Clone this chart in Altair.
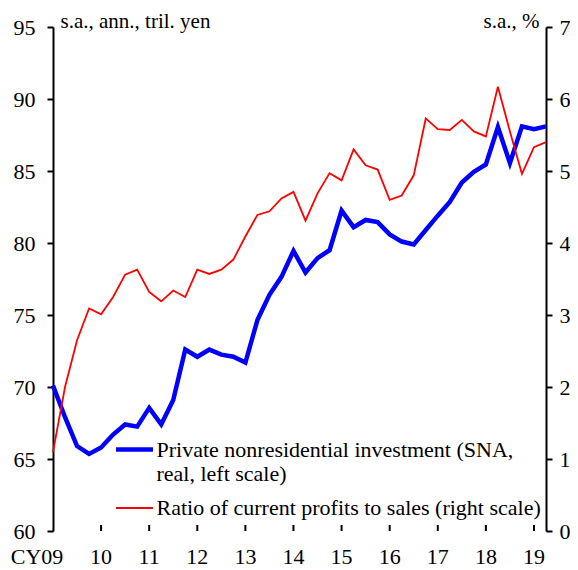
import altair as alt
import pandas as pd

# Quarterly observations, CY2009 Q1 .. CY2019 Q2
quarters = [f"{y}Q{q}" for y in range(2009, 2020) for q in range(1, 5)][:42]

investment = [70.1, 67.9, 65.9, 65.35, 65.8, 66.7, 67.4, 67.25, 68.55, 67.4,
              69.1, 72.6, 72.1, 72.6, 72.25, 72.1, 71.7, 74.65, 76.4, 77.65,
              79.45, 77.95, 78.95, 79.5, 82.25, 81.1, 81.6, 81.45, 80.6, 80.1,
              79.9, 80.9, 81.9, 82.85, 84.2, 84.95, 85.45, 88.05, 85.55, 88.1,
              87.9, 88.1]

profit_ratio = [1.10, 2.0, 2.65, 3.09, 3.01, 3.25, 3.56, 3.63, 3.32, 3.19,
                3.34, 3.25, 3.63, 3.57, 3.63, 3.77, 4.09, 4.39, 4.44, 4.62,
                4.71, 4.31, 4.69, 4.97, 4.87, 5.30, 5.08, 5.02, 4.60, 4.66,
                4.94, 5.73, 5.58, 5.57, 5.71, 5.55, 5.48, 6.17, 5.55, 4.96,
                5.33, 5.40]

year_ticks = list(range(2009, 2020))
year_labels = ["CY09", "10", "11", "12", "13", "14", "15", "16", "17", "18", "19"]
left_ticks = [60, 65, 70, 75, 80, 85, 90, 95]
right_ticks = [0, 1, 2, 3, 4, 5, 6, 7]

legend_labels = ["Private nonresidential investment (SNA,",
                 "real, left scale)",
                 "Ratio of current profits to sales (right scale)"]

t = [int(s[:4]) + (int(s[5]) - 1) / 4 for s in quarters]
df = pd.DataFrame({"t": t, "inv": investment, "ratio": profit_ratio})
years_df = pd.DataFrame({"year": year_ticks, "label": year_labels})
one = pd.DataFrame({"a": [0]})

W, H = 493, 504
FONT = "Liberation Serif"
FS = 22

x_scale = alt.Scale(domain=[2009, 2019.25], nice=False, zero=False)

x_axis = alt.Axis(
    values=year_ticks, ticks=False, labels=False, grid=False, title=None,
    domainColor="black", domainWidth=2,
)

common_y = dict(
    grid=False, labelFont=FONT, labelFontSize=FS, labelColor="black",
    tickSize=6, tickWidth=2, tickColor="black",
    domainColor="black", domainWidth=2, titleAngle=0,
    titleBaseline="alphabetic", titleY=0, titleFont=FONT, titleFontSize=21,
    titleFontWeight="normal", titleColor="black",
)

blue = alt.Chart(df).mark_line(color="#0000ff", strokeWidth=4.5).encode(
    x=alt.X("t:Q", scale=x_scale, axis=x_axis),
    y=alt.Y("inv:Q", scale=alt.Scale(domain=[60, 95], nice=False, zero=False),
            axis=alt.Axis(orient="left", values=left_ticks, labelPadding=12,
                          title="s.a., ann., tril. yen", titleAlign="left",
                          titleX=7, **common_y)),
)

red = alt.Chart(df).mark_line(color="#ff0000", strokeWidth=1.8).encode(
    x=alt.X("t:Q", scale=x_scale, axis=None),
    y=alt.Y("ratio:Q", scale=alt.Scale(domain=[0, 7], nice=False, zero=False),
            axis=alt.Axis(orient="right", values=right_ticks, labelPadding=7,
                          title="s.a., %", titleAlign="right",
                          titleX=-7, **common_y)),
)

# inward year ticks on the x axis
xticks = alt.Chart(years_df).transform_filter("datum.year > 2009").mark_rule(
    color="black", strokeWidth=2).encode(
    x=alt.X("year:Q", scale=x_scale, axis=None),
    y=alt.value(H - 6), y2=alt.value(H),
)

# year labels under the axis
xlab_first = alt.Chart(years_df).transform_filter("datum.year == 2009").mark_text(
    align="center", baseline="alphabetic", font=FONT, fontSize=FS, color="black",
    dx=-16,
).encode(x=alt.X("year:Q", scale=x_scale, axis=None), y=alt.value(H + 33),
         text="label:N")
xlab_rest = alt.Chart(years_df).transform_filter("datum.year > 2009").mark_text(
    align="center", baseline="alphabetic", font=FONT, fontSize=FS, color="black",
).encode(x=alt.X("year:Q", scale=x_scale, axis=None), y=alt.value(H + 33),
         text="label:N")

leg_blue = alt.Chart(one).mark_rule(color="#0000ff", strokeWidth=4.5).encode(
    x=alt.value(63), x2=alt.value(100), y=alt.value(422.5))
leg_red = alt.Chart(one).mark_rule(color="#ff0000", strokeWidth=1.8).encode(
    x=alt.value(63), x2=alt.value(100), y=alt.value(481))

def leg_text(txt, y):
    return alt.Chart(one).mark_text(
        text=txt, align="left", baseline="middle", font=FONT, fontSize=FS,
        color="black").encode(x=alt.value(103.5), y=alt.value(y))

chart = alt.layer(
    blue, red, xticks, xlab_first, xlab_rest, leg_blue, leg_red,
    leg_text(legend_labels[0], 422.5),
    leg_text(legend_labels[1], 446.5),
    leg_text(legend_labels[2], 481),
).resolve_scale(y="independent").properties(
    width=W, height=H,
    padding={"left": 45, "top": 19, "right": 24, "bottom": 39},
    autosize=alt.AutoSizeParams(type="none"),
).configure_view(stroke=None)

chart.save("out.html", embed_options={"renderer": "svg", "actions": False})
